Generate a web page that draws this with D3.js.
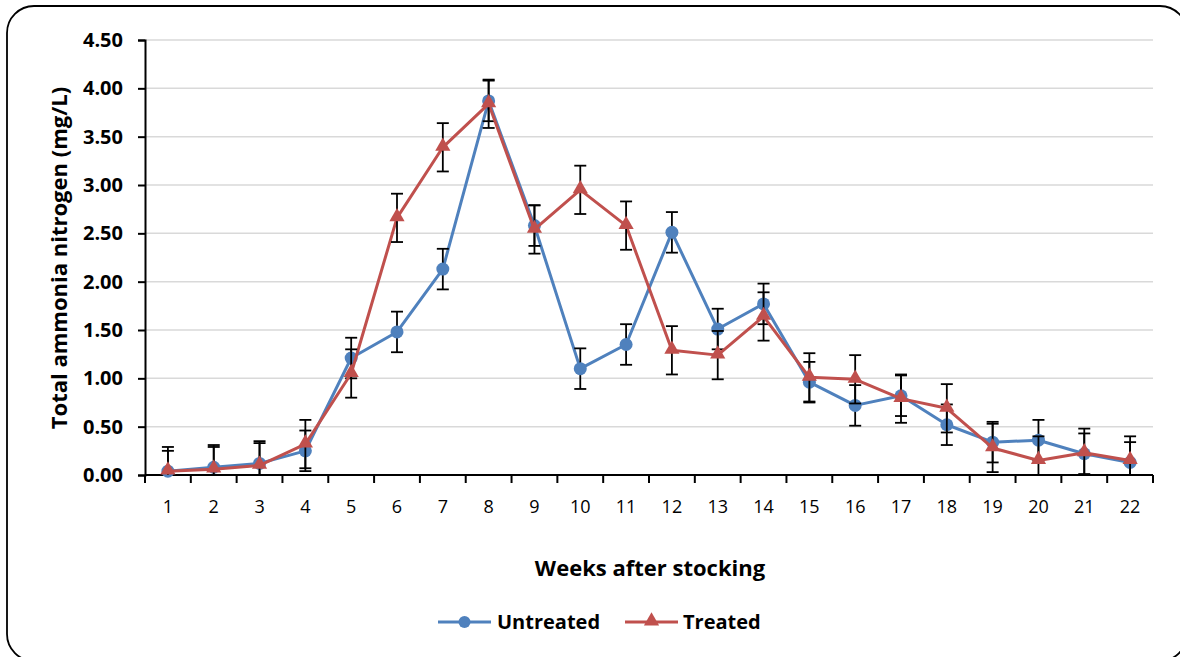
<!DOCTYPE html>
<html>
<head>
<meta charset="utf-8">
<script src="https://cdn.jsdelivr.net/npm/d3@7"></script>
<style>
  html, body { margin: 0; padding: 0; background: #fff; }
  svg { display: block; }
  text { font-family: "Open Sans", "Liberation Sans", sans-serif; fill: #000; }
</style>
</head>
<body>
<svg id="chart" width="1180" height="657"></svg>
<script>
// Weekly total ammonia nitrogen (mg/L), mean ± error
const weeks = ["1","2","3","4","5","6","7","8","9","10","11","12","13","14","15","16","17","18","19","20","21","22"];
const untreated = [0.04,0.08,0.12,0.25,1.21,1.48,2.13,3.87,2.58,1.10,1.35,2.51,1.51,1.77,0.96,0.72,0.82,0.52,0.34,0.36,0.22,0.13];
const untreatedErr = [0.21,0.21,0.21,0.21,0.21,0.21,0.21,0.21,0.21,0.21,0.21,0.21,0.21,0.21,0.21,0.21,0.21,0.21,0.21,0.21,0.21,0.21];
const treated = [0.04,0.06,0.10,0.32,1.05,2.66,3.39,3.84,2.54,2.95,2.58,1.29,1.24,1.64,1.01,0.99,0.79,0.69,0.28,0.15,0.23,0.15];
const treatedErr = [0.25,0.25,0.25,0.25,0.25,0.25,0.25,0.25,0.25,0.25,0.25,0.25,0.25,0.25,0.25,0.25,0.25,0.25,0.25,0.25,0.25,0.25];
const yTicks = [0,0.5,1,1.5,2,2.5,3,3.5,4,4.5];

const svg = d3.select("#chart");

// outer rounded frame
svg.append("rect")
  .attr("x", 7).attr("y", 6).attr("width", 1180).attr("height", 655)
  .attr("rx", 27).attr("ry", 27)
  .attr("fill", "#fff").attr("stroke", "#000").attr("stroke-width", 1.8);

const plot = { left: 145, right: 1153, top: 40, bottom: 475 };

const x = d3.scaleBand().domain(weeks).range([plot.left, plot.right]).padding(0);
const y = d3.scaleLinear().domain([0, 4.5]).range([plot.bottom, plot.top]);

// horizontal gridlines
svg.append("g")
  .selectAll("line")
  .data(yTicks.filter(d => d > 0))
  .join("line")
  .attr("x1", plot.left).attr("x2", plot.right)
  .attr("y1", d => y(d)).attr("y2", d => y(d))
  .attr("stroke", "#d9d9d9").attr("stroke-width", 1.5);

// y axis
const yAxis = svg.append("g")
  .attr("transform", `translate(${plot.left},0)`)
  .call(d3.axisLeft(y).tickValues(yTicks).tickFormat(d3.format(".2f")).tickSize(7).tickPadding(15));
yAxis.select(".domain").attr("stroke", "#000").attr("stroke-width", 2);
yAxis.selectAll(".tick line").attr("stroke", "#000").attr("stroke-width", 2);
yAxis.selectAll(".tick text")
  .attr("font-family", "'Open Sans', sans-serif")
  .attr("font-size", 20).attr("font-weight", "bold").attr("fill", "#000");

// x axis: ticks between categories
const xAxisG = svg.append("g").attr("transform", `translate(0,${plot.bottom})`);
xAxisG.append("line")
  .attr("x1", plot.left).attr("x2", plot.right)
  .attr("stroke", "#000").attr("stroke-width", 2);
const boundaries = weeks.map(w => x(w)).concat([x(weeks[weeks.length - 1]) + x.bandwidth()]);
xAxisG.selectAll("line.tk")
  .data(boundaries)
  .join("line").attr("class", "tk")
  .attr("x1", d => d).attr("x2", d => d)
  .attr("y1", 0).attr("y2", 8)
  .attr("stroke", "#000").attr("stroke-width", 2);
xAxisG.selectAll("text")
  .data(weeks)
  .join("text")
  .attr("x", d => x(d) + x.bandwidth() / 2)
  .attr("y", 38)
  .attr("text-anchor", "middle")
  .attr("font-size", 18)
  .text(d => d);

// axis titles
svg.append("text")
  .attr("transform", `translate(67,258) rotate(-90)`)
  .attr("text-anchor", "middle")
  .attr("font-size", 22).attr("font-weight", "bold")
  .text("Total ammonia nitrogen (mg/L)");
svg.append("text")
  .attr("x", 650).attr("y", 576)
  .attr("text-anchor", "middle")
  .attr("font-size", 22).attr("font-weight", "bold")
  .text("Weeks after stocking");

const cx = w => x(w) + x.bandwidth() / 2;

svg.append("defs").append("clipPath").attr("id", "plotclip")
  .append("rect")
  .attr("x", plot.left).attr("y", plot.top - 20)
  .attr("width", plot.right - plot.left).attr("height", plot.bottom - plot.top + 20);

const series = [
  { name: "Untreated", values: untreated, err: untreatedErr, color: "#4f81bd", marker: "circle" },
  { name: "Treated", values: treated, err: treatedErr, color: "#c0504d", marker: "triangle" }
];

const line = d3.line().x(d => cx(d.w)).y(d => y(d.v));
const triangle = d3.symbol().type(d3.symbolTriangle).size(100);

series.forEach(s => {
  const pts = weeks.map((w, i) => ({ w, v: s.values[i], e: s.err[i] }));
  const g = svg.append("g");

  g.append("path")
    .datum(pts)
    .attr("d", line)
    .attr("fill", "none")
    .attr("stroke", s.color)
    .attr("stroke-width", 3)
    .attr("stroke-linejoin", "round");

  // error bars
  const eb = g.append("g").attr("clip-path", "url(#plotclip)");
  pts.forEach(p => {
    const px = cx(p.w);
    const y0 = y(p.v - p.e), y1 = y(p.v + p.e);
    eb.append("line").attr("x1", px).attr("x2", px).attr("y1", y0).attr("y2", y1)
      .attr("stroke", "#000").attr("stroke-width", 1.8);
    [y0, y1].forEach(yy => {
      eb.append("line").attr("x1", px - 6).attr("x2", px + 6).attr("y1", yy).attr("y2", yy)
        .attr("stroke", "#000").attr("stroke-width", 1.8);
    });
  });

  if (s.marker === "circle") {
    g.selectAll("circle").data(pts).join("circle")
      .attr("cx", d => cx(d.w)).attr("cy", d => y(d.v)).attr("r", 6.5)
      .attr("fill", s.color);
  } else {
    g.selectAll("path.mk").data(pts).join("path").attr("class", "mk")
      .attr("d", triangle)
      .attr("transform", d => `translate(${cx(d.w)},${y(d.v) - 1})`)
      .attr("fill", s.color);
  }
});

// legend
const legend = svg.append("g");
const legendItems = [
  { s: series[0], x0: 438, x1: 491, tx: 497 },
  { s: series[1], x0: 625, x1: 678, tx: 683 }
];
legendItems.forEach(it => {
  const ly = 622;
  legend.append("line").attr("x1", it.x0).attr("x2", it.x1).attr("y1", ly).attr("y2", ly)
    .attr("stroke", it.s.color).attr("stroke-width", 3);
  const mx = (it.x0 + it.x1) / 2;
  if (it.s.marker === "circle") {
    legend.append("circle").attr("cx", mx).attr("cy", ly).attr("r", 6).attr("fill", it.s.color);
  } else {
    legend.append("path").attr("d", triangle).attr("transform", `translate(${mx},${ly - 1})`).attr("fill", it.s.color);
  }
  legend.append("text").attr("x", it.tx).attr("y", ly + 7)
    .attr("font-size", 20).attr("font-weight", "bold")
    .text(it.s.name);
});
</script>
</body>
</html>
